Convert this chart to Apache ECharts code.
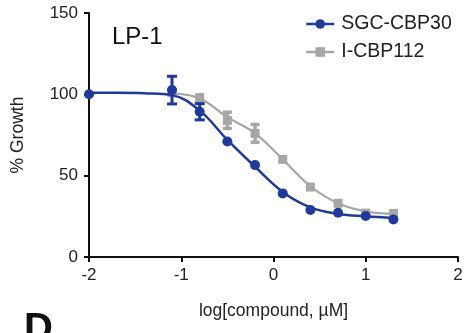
<!DOCTYPE html>
<html>
<head>
<meta charset="utf-8">
<script src="https://cdn.jsdelivr.net/npm/echarts@6/dist/echarts.min.js"></script>
<style>
html,body{margin:0;padding:0;background:#fff;}
#chart{width:469px;height:333px;}
</style>
</head>
<body>
<div id="chart"></div>
<script>
// ---- data ----
const xTicks = [-2, -1, 0, 1, 2];
const yTicks = [0, 50, 100, 150];
const sgcDose = [-2, -1.1, -0.8, -0.5, -0.2, 0.1, 0.4, 0.7, 1.0, 1.3];
const sgcGrowth = [100, 102.6, 89.3, 71, 56.5, 39.1, 28.9, 27.2, 25.2, 23];
const sgcErr = [0, 8.5, 5, 0, 0, 0, 0, 0, 0, 0];
const icbpDose = [-1.1, -0.8, -0.5, -0.2, 0.1, 0.4, 0.7, 1.0, 1.3];
const icbpGrowth = [101, 98, 84, 76, 60, 43, 33, 27, 26.8];
const icbpErr = [0, 0, 5, 5.5, 0, 0, 0, 0, 0];
const sgcFitDose = [-2, -1.7, -1.4, -1.1, -0.8, -0.5, -0.2, 0.1, 0.4, 0.7, 1.0, 1.3];
const sgcFit = [101, 101, 100.7, 99.5, 90, 72, 55.5, 40, 30.5, 26.5, 25, 24];
const icbpFitDose = [-1.1, -0.8, -0.5, -0.2, 0.1, 0.4, 0.7, 1.0, 1.3];
const icbpFit = [100.5, 97.5, 86, 76, 60, 43.5, 33, 28, 26.5];
const names = ['SGC-CBP30', 'I-CBP112'];

const BLUE = '#203a9c';
const GRAY = '#a6a6a6';
const FONT = 'Liberation Sans, Arial, sans-serif';

const zip = (a, b) => a.map((v, i) => [v, b[i]]);
const errData = (d, g, e) => d.map((v, i) => [v, g[i] - e[i], g[i] + e[i], e[i]]).filter(r => r[3] > 0);

function errRender(color, capW, lw) {
  return function (params, api) {
    const lo = api.coord([api.value(0), api.value(1)]);
    const hi = api.coord([api.value(0), api.value(2)]);
    const st = {stroke: color, lineWidth: lw};
    return {type: 'group', children: [
      {type: 'line', shape: {x1: lo[0], y1: lo[1], x2: hi[0], y2: hi[1]}, style: st},
      {type: 'line', shape: {x1: lo[0] - capW / 2, y1: lo[1], x2: lo[0] + capW / 2, y2: lo[1]}, style: st},
      {type: 'line', shape: {x1: hi[0] - capW / 2, y1: hi[1], x2: hi[0] + capW / 2, y2: hi[1]}, style: st}
    ]};
  };
}

const chart = echarts.init(document.getElementById('chart'), null, {renderer: 'canvas'});
chart.setOption({
  animation: false,
  backgroundColor: '#fff',
  grid: {left: 89, right: 11, top: 13, bottom: 76},
  legend: {
    orient: 'vertical', left: 300, top: 9,
    itemWidth: 28, itemHeight: 12, itemGap: 8,
    textStyle: {fontFamily: FONT, fontSize: 19.5, color: '#222', padding: [0, 0, 0, 2]},
    data: [
      {name: names[0], lineStyle: {opacity: 1, width: 2.5, color: BLUE}},
      {name: names[1], lineStyle: {opacity: 1, width: 2.5, color: GRAY}}
    ]
  },
  xAxis: {
    type: 'value', min: xTicks[0], max: xTicks[xTicks.length - 1], interval: 1,
    name: 'log[compound, µM]', nameLocation: 'middle', nameGap: 45,
    nameTextStyle: {fontFamily: FONT, fontSize: 17.5, color: '#222'},
    axisLine: {show: true, onZero: false, lineStyle: {color: '#111', width: 2}},
    axisTick: {show: true, length: 5, lineStyle: {color: '#111', width: 2}},
    axisLabel: {fontFamily: FONT, fontSize: 17, color: '#222', margin: 10},
    splitLine: {show: false}
  },
  yAxis: {
    type: 'value', min: yTicks[0], max: yTicks[yTicks.length - 1], interval: 50,
    name: '% Growth', nameLocation: 'middle', nameGap: 62,
    nameTextStyle: {fontFamily: FONT, fontSize: 17.5, color: '#222'},
    axisLine: {show: true, onZero: false, lineStyle: {color: '#111', width: 2}},
    axisTick: {show: true, length: 5, lineStyle: {color: '#111', width: 2}},
    axisLabel: {fontFamily: FONT, fontSize: 17, color: '#222', margin: 11},
    splitLine: {show: false}
  },
  graphic: [
    {type: 'text', left: 112, top: 25, style: {text: 'LP-1', font: '24px ' + FONT, fill: '#111'}},
    {type: 'text', left: 24, top: 310, style: {text: 'D', font: 'bold 40px ' + FONT, fill: '#111'}}
  ],
  series: [
    {name: names[0], type: 'line', data: zip(sgcDose, sgcGrowth), symbol: 'circle', symbolSize: 10,
      lineStyle: {opacity: 0}, itemStyle: {color: BLUE}, z: 7},
    {name: names[1], type: 'line', data: zip(icbpDose, icbpGrowth), symbol: 'rect', symbolSize: 9,
      lineStyle: {opacity: 0}, itemStyle: {color: GRAY}, z: 4},
    {name: names[1], type: 'line', smooth: 0.4, data: zip(icbpFitDose, icbpFit), showSymbol: false, symbol: 'none',
      lineStyle: {color: GRAY, width: 2.2}, itemStyle: {color: GRAY}, z: 2},
    {name: names[1], type: 'custom', data: errData(icbpDose, icbpGrowth, icbpErr), renderItem: errRender(GRAY, 9, 3.5), z: 3},
    {name: names[0], type: 'line', smooth: 0.4, data: zip(sgcFitDose, sgcFit), showSymbol: false, symbol: 'none',
      lineStyle: {color: BLUE, width: 2.5}, itemStyle: {color: BLUE}, z: 5},
    {name: names[0], type: 'custom', data: errData(sgcDose, sgcGrowth, sgcErr), renderItem: errRender(BLUE, 10, 3), z: 6}
  ]
});
</script>
</body>
</html>
